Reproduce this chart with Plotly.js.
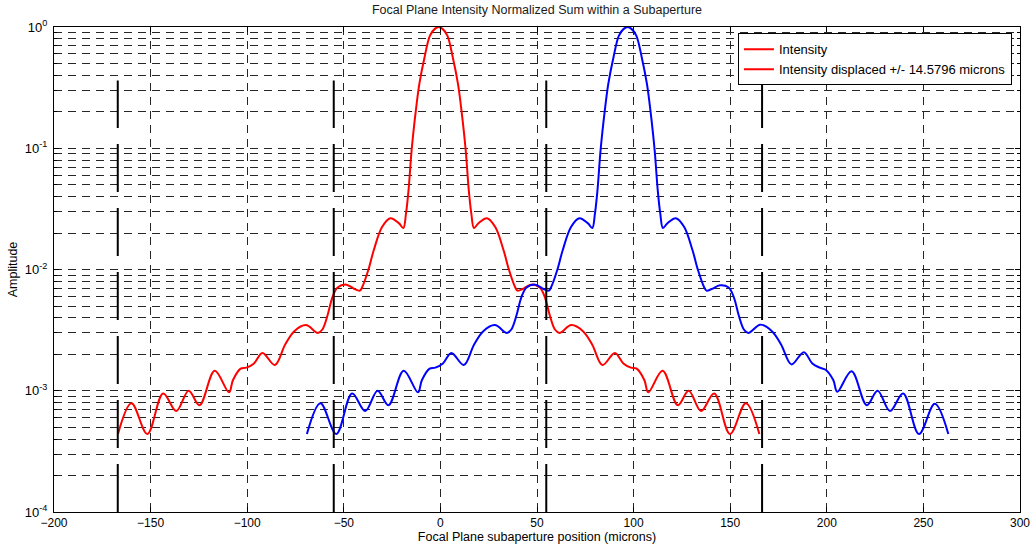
<!DOCTYPE html>
<html>
<head>
<meta charset="utf-8">
<script src="https://cdn.plot.ly/plotly-3.0.1.min.js"></script>
<style>
  html, body { margin: 0; padding: 0; background: #fff; }
  #chart { width: 1031px; height: 548px; }
</style>
</head>
<body>
<div id="chart"></div>
<script>
// Focal-plane intensity, normalized, sampled across the subaperture (microns)
const intensityX = [-166.9, -159.9, -151.7, -143.5, -136.7, -130.3, -124.7, -116.8, -109.4, -107.4,
  -103.4, -100.4, -96.5, -92.1, -85.7, -80.4, -75.6, -69.6, -63.4, -61.1,
  -58.4, -55.9, -53.2, -48.7, -44.4, -41.7, -40.4, -37.4, -34.5, -30.2,
  -25.9, -21.4, -19.2, -17.8, -16.5, -14.9, -12.7, -10.9, -8.2, -5.4, -2.9,
  -0.9,
  1.1, 3.6, 6.4, 9.1, 10.9, 13.1, 14.7, 16.0, 17.4, 19.6,
  24.1, 28.4, 32.7, 35.6, 38.6, 39.9, 42.6, 46.9, 51.4, 54.1,
  56.6, 59.3, 61.6, 67.8, 73.8, 78.6, 83.9, 90.3, 94.7, 98.6,
  101.6, 105.6, 107.6, 115.0, 122.9, 128.5, 134.9, 141.7, 149.9, 158.1, 165.1];
const intensityY = [0.00044, 0.00079, 0.00044, 0.00095, 0.00068, 0.0010, 0.00076, 0.00146, 0.00097, 0.00122,
  0.00152, 0.00155, 0.00168, 0.00205, 0.00163, 0.0024, 0.0031, 0.00348, 0.0030, 0.0032,
  0.0042, 0.0059, 0.0071, 0.0075, 0.0069, 0.0067, 0.0072, 0.0098, 0.0144, 0.0224,
  0.0265, 0.024, 0.022, 0.029, 0.045, 0.096, 0.205, 0.34, 0.564, 0.85, 0.965,
  1.0,
  0.965, 0.85, 0.564, 0.34, 0.205, 0.096, 0.045, 0.029, 0.022, 0.024,
  0.0265, 0.0224, 0.0144, 0.0098, 0.0072, 0.0067, 0.0069, 0.0075, 0.0071, 0.0059,
  0.0042, 0.0032, 0.0030, 0.00348, 0.0031, 0.0024, 0.00163, 0.00205, 0.00168, 0.00155,
  0.00152, 0.00122, 0.00097, 0.00146, 0.00076, 0.0010, 0.00068, 0.00095, 0.00044, 0.00079, 0.00044];

// Same intensity pattern, displaced spot
const displacedX = [-69.1, -62.1, -53.9, -45.7, -38.9, -32.5, -26.9, -19.0, -11.6, -9.6,
  -5.6, -2.6, 1.3, 5.7, 12.1, 17.4, 22.2, 28.2, 34.4, 36.7,
  39.4, 41.9, 44.6, 49.1, 53.4, 56.1, 57.4, 60.4, 63.3, 67.6,
  71.9, 76.4, 78.6, 80.0, 81.3, 82.9, 85.1, 86.9, 89.6, 92.4, 94.9,
  96.9,
  98.9, 101.4, 104.2, 106.9, 108.7, 110.9, 112.5, 113.8, 115.2, 117.4,
  121.9, 126.2, 130.5, 133.4, 136.4, 137.7, 140.4, 144.7, 149.2, 151.9,
  154.4, 157.1, 159.4, 165.6, 171.6, 176.4, 181.7, 188.1, 192.5, 196.4,
  199.4, 203.4, 205.4, 212.8, 220.7, 226.3, 232.7, 239.5, 247.7, 255.9, 262.9];
const displacedY = [0.00044, 0.00079, 0.00044, 0.00095, 0.00068, 0.0010, 0.00076, 0.00146, 0.00097, 0.00122,
  0.00152, 0.00155, 0.00168, 0.00205, 0.00163, 0.0024, 0.0031, 0.00348, 0.0030, 0.0032,
  0.0042, 0.0059, 0.0071, 0.0075, 0.0069, 0.0067, 0.0072, 0.0098, 0.0144, 0.0224,
  0.0265, 0.024, 0.022, 0.029, 0.045, 0.096, 0.205, 0.34, 0.564, 0.85, 0.965,
  1.0,
  0.965, 0.85, 0.564, 0.34, 0.205, 0.096, 0.045, 0.029, 0.022, 0.024,
  0.0265, 0.0224, 0.0144, 0.0098, 0.0072, 0.0067, 0.0069, 0.0074, 0.0071, 0.0059,
  0.0042, 0.0032, 0.0030, 0.00351, 0.0031, 0.0024, 0.00165, 0.00208, 0.00168, 0.00155,
  0.00149, 0.00122, 0.00098, 0.00145, 0.00076, 0.0010, 0.00068, 0.00095, 0.00044, 0.00078, 0.00044];

// Subaperture boundaries and the vertical extent of their markers
const boundaryX = [-167, -55.2, 54.8, 166.5];
const boundaryY = [1e-4, 0.362];

// Axis ticks
const xTicks = [-200, -150, -100, -50, 0, 50, 100, 150, 200, 250, 300];
const yTicks = [1e-4, 1e-3, 1e-2, 1e-1, 1];
const yTickText = ['10<sup>-4</sup>', '10<sup>-3</sup>', '10<sup>-2</sup>', '10<sup>-1</sup>', '10<sup>0</sup>'];

const legendNames = ['Intensity', 'Intensity displaced +/- 14.5796 microns'];

const FONT = 'Liberation Sans, Arial, Helvetica, sans-serif';
const GRID = '#262626';
const GRIDDASH = '8px,6px';

const traces = [
  {
    x: intensityX, y: intensityY, type: 'scatter', mode: 'lines',
    line: { color: '#ff0000', width: 2, shape: 'spline', smoothing: 1 },
    name: legendNames[0], showlegend: true
  },
  {
    x: displacedX, y: displacedY, type: 'scatter', mode: 'lines',
    line: { color: '#0000ff', width: 2, shape: 'spline', smoothing: 1 },
    name: legendNames[1], showlegend: false
  },
  // legend entry for the displaced curve (keyed in red)
  {
    x: [null], y: [null], type: 'scatter', mode: 'lines',
    line: { color: '#ff0000', width: 2 },
    name: legendNames[1], showlegend: true
  }
];

boundaryX.forEach(function (bx) {
  traces.push({
    x: [bx, bx], y: boundaryY, type: 'scatter', mode: 'lines',
    line: { color: '#000000', width: 2, dash: '48px,16px' },
    showlegend: false, hoverinfo: 'skip'
  });
});

const layout = {
  width: 1031, height: 548,
  margin: { l: 54, r: 11, t: 27, b: 36 },
  paper_bgcolor: '#ffffff', plot_bgcolor: '#ffffff',
  font: { family: FONT, size: 12, color: '#000000' },
  title: {
    text: 'Focal Plane Intensity Normalized Sum within a Subaperture',
    font: { family: FONT, size: 12.5, color: '#1a1a1a' },
    x: 0.5, xref: 'paper', xanchor: 'center',
    y: 0.982, yref: 'container', yanchor: 'middle'
  },
  xaxis: {
    range: [-200, 300], tickvals: xTicks,
    ticks: 'inside', ticklen: 5, tickwidth: 1, tickcolor: '#000',
    showline: true, linecolor: '#000', linewidth: 1, mirror: 'ticks',
    showgrid: true, gridcolor: GRID, gridwidth: 1, griddash: GRIDDASH,
    zeroline: false,
    tickfont: { family: FONT, size: 12, color: '#000' },
    title: { text: 'Focal Plane subaperture position (microns)', font: { family: FONT, size: 12.5, color: '#000' }, standoff: 2 }
  },
  yaxis: {
    type: 'log', range: [-4, 0],
    tickvals: yTicks, ticktext: yTickText,
    ticks: 'inside', ticklen: 5, tickwidth: 1, tickcolor: '#000',
    showline: true, linecolor: '#000', linewidth: 1, mirror: 'ticks',
    showgrid: true, gridcolor: GRID, gridwidth: 1, griddash: GRIDDASH,
    zeroline: false,
    ticklabelstandoff: 3,
    minor: {
      dtick: 'D1', ticks: 'inside', ticklen: 3, tickcolor: '#000',
      showgrid: true, gridcolor: GRID, gridwidth: 1, griddash: GRIDDASH
    },
    tickfont: { family: FONT, size: 13, color: '#000' },
    title: { text: 'Amplitude', font: { family: FONT, size: 12.5, color: '#000' }, standoff: 4 }
  },
  legend: {
    x: 0.708, y: 0.987, xanchor: 'left', yanchor: 'top',
    bgcolor: '#ffffff', bordercolor: '#000000', borderwidth: 1,
    font: { family: FONT, size: 13, color: '#000' },
    tracegroupgap: 0
  },
  showlegend: true
};

Plotly.newPlot('chart', traces, layout, { staticPlot: true, displayModeBar: false });
</script>
</body>
</html>
